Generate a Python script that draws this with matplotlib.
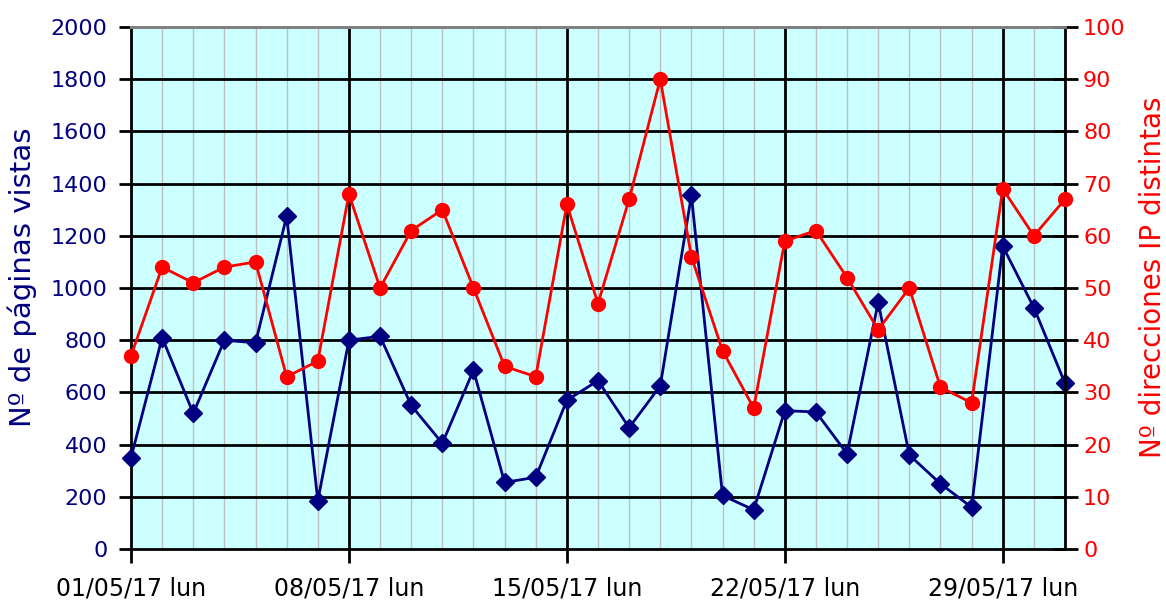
import matplotlib
matplotlib.use("Agg")
import matplotlib.pyplot as plt
import numpy as np

days = list(range(1, 32))
paginas = [350, 810, 520, 800, 790, 1275, 185, 800, 815, 550, 405, 685, 255, 275,
           570, 645, 465, 625, 1355, 205, 150, 530, 525, 365, 945, 360, 250, 160,
           1160, 925, 635]
ips = [37, 54, 51, 54, 55, 33, 36, 68, 50, 61, 65, 50, 35, 33, 66, 47, 67, 90,
       56, 38, 27, 59, 61, 52, 42, 50, 31, 28, 69, 60, 67]
xtick_days = [1, 8, 15, 22, 29]
xtick_labels = ["01/05/17 lun", "08/05/17 lun", "15/05/17 lun", "22/05/17 lun", "29/05/17 lun"]

plt.rcParams['font.family'] = ['DejaVu Sans']

fig = plt.figure(figsize=(11.66, 6.02), dpi=100)
ax = fig.add_axes([131/1166, 53/602, (1065-131)/1166, (549-27)/602])
ax.set_facecolor('#CCFFFF')
ax.set_xlim(1, 31)
ax.set_ylim(0, 2000)

# minor daily grid
for d in days:
    if d not in xtick_days:
        ax.axvline(d, color='#BFBFBF', lw=1, zorder=0.5)
for d in xtick_days[1:]:
    ax.axvline(d, color='black', lw=2, zorder=0.6)
for y in range(200, 2000, 200):
    ax.axhline(y, color='black', lw=2, zorder=0.6)

ax.plot(days, paginas, color='#000080', lw=2, marker='D', ms=9, zorder=3, clip_on=False)

ax.set_yticks(range(0, 2001, 200))
ax.set_xticks(xtick_days)
ax.set_xticklabels(xtick_labels)
ax.tick_params(axis='y', colors='black', labelcolor='#000080', labelsize=16, length=9, width=2,
               direction='out', pad=8)
ax.tick_params(axis='x', colors='black', labelsize=17, length=10, width=2, direction='out', pad=10)
ax.set_ylabel('Nº de páginas vistas', color='#000080', fontsize=21)
ax.yaxis.set_label_coords(-0.101, 0.52)
ax.spines['left'].set_linewidth(2)
ax.spines['bottom'].set_linewidth(2)
ax.spines['top'].set_color('#808080')
ax.spines['top'].set_linewidth(2)

ax2 = ax.twinx()
ax2.set_ylim(0, 100)
ax2.plot(days, ips, color='#FF0000', lw=2, marker='o', ms=10, zorder=3, clip_on=False)
ax2.set_yticks(range(0, 101, 10))
ax2.tick_params(axis='y', colors='black', labelcolor='#FF0000', labelsize=16, length=18, width=2,
                direction='inout', pad=4)
ax2.set_ylabel('Nº direcciones IP distintas', color='#FF0000', fontsize=20)
ax2.yaxis.set_label_coords(1.079, 0.52)
ax2.spines['right'].set_linewidth(2)
ax2.spines['top'].set_color('#808080')
ax2.spines['top'].set_linewidth(2)
ax2.spines['left'].set_visible(False)
ax2.spines['bottom'].set_visible(False)

fig.savefig('out.png', dpi=100)
